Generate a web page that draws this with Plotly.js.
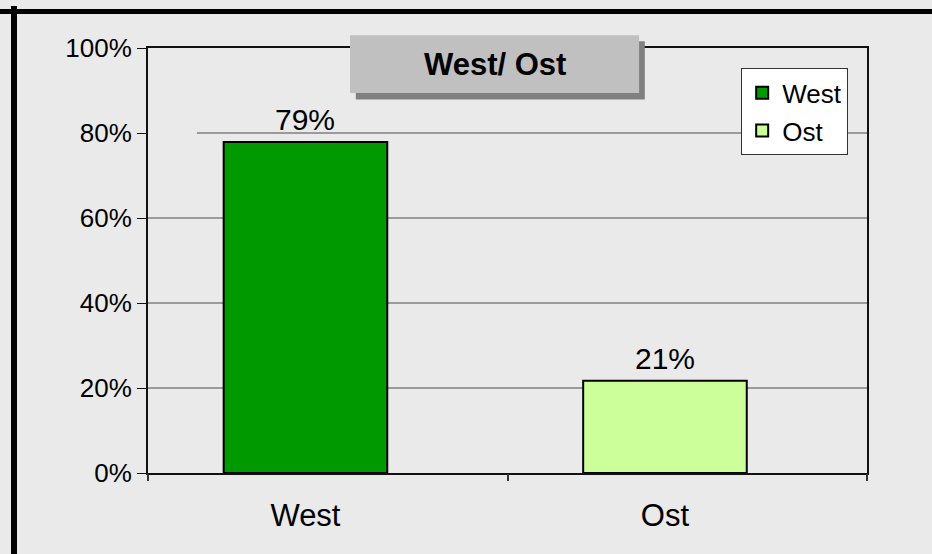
<!DOCTYPE html>
<html>
<head>
<meta charset="utf-8">
<script src="https://cdn.plot.ly/plotly-3.0.1.min.js"></script>
<style>
  html, body { margin: 0; padding: 0; background: #eaeaea; }
  #wrap { position: relative; width: 932px; height: 554px; overflow: hidden; }
  #chart { width: 932px; height: 554px; }
  .frameTop { position: absolute; left: 0; top: 9px; width: 932px; height: 5px; background: #000; }
  .frameLeft { position: absolute; left: 11px; top: 6px; width: 6px; height: 548px; background: #000; }
</style>
</head>
<body>
<div id="wrap">
  <div id="chart"></div>
  <div class="frameTop"></div>
  <div class="frameLeft"></div>
</div>
<script>
// ---- data ----
const categories = ["West", "Ost"];
const shareValues = [0.779, 0.217];
const shareLabels = ["79%", "21%"];
const barColors = ["#009900", "#ccff99"];
const yTickVals = [0, 0.2, 0.4, 0.6, 0.8, 1.0];
const yTickText = ["0%", "20%", "40%", "60%", "80%", "100%"];
const chartTitle = "West/ Ost";

const FONT = "Liberation Sans, Arial, sans-serif";

const traces = categories.map((c, i) => ({
  type: "bar",
  name: c,
  x: [c],
  y: [shareValues[i]],
  width: 0.455,
  marker: { color: barColors[i], line: { color: "#000", width: 2 } },
  legendgroup: "g" + i,
  hoverinfo: "skip"
}));
// helper trace for boundary tick marks
traces.push({
  type: "scatter", x: [null], y: [null], xaxis: "x2", yaxis: "y",
  showlegend: false, hoverinfo: "skip"
});

const gridShapes = yTickVals.filter(v => v > 0 && v < 1).map(v => ({
  type: "line", xref: "paper", yref: "y",
  x0: v === 0.8 ? 0.068 : 0, x1: 1.003, y0: v, y1: v,
  line: { color: "#4a4a4a", width: 1 }, layer: "below"
}));

const titleShapes = [
  { type: "rect", xref: "paper", yref: "paper", x0: 0.289, x1: 0.691, y0: 0.879, y1: 1.016,
    fillcolor: "#808080", line: { width: 0 }, layer: "above" },
  { type: "rect", xref: "paper", yref: "paper", x0: 0.281, x1: 0.683, y0: 0.894, y1: 1.030,
    fillcolor: "#c0c0c0", line: { width: 0 }, layer: "above" }
];

const labelAnns = categories.map((c, i) => ({
  xref: "x", yref: "y", x: c, y: shareValues[i],
  text: shareLabels[i], showarrow: false, yanchor: "bottom", yshift: 4,
  font: { family: FONT, size: 30, color: "#000" }
}));

const titleAnn = {
  xref: "paper", yref: "paper", x: 0.482, y: 0.962,
  text: "<b>" + chartTitle + "</b>", showarrow: false,
  xanchor: "center", yanchor: "middle",
  font: { family: FONT, size: 31, color: "#000" }
};

const layout = {
  width: 932, height: 554,
  margin: { l: 148, r: 65, t: 48, b: 81 },
  paper_bgcolor: "#eaeaea",
  plot_bgcolor: "#eaeaea",
  font: { family: FONT, color: "#000" },
  showlegend: true,
  legend: {
    x: 0.825, xanchor: "left", y: 0.952, yanchor: "top",
    bgcolor: "#ffffff", bordercolor: "#333", borderwidth: 1,
    font: { family: FONT, size: 26, color: "#000" },
    traceorder: "grouped", tracegroupgap: 1
  },
  xaxis: {
    type: "category", categoryarray: categories, categoryorder: "array",
    range: [-0.438, 1.562],
    showline: true, linecolor: "#111", linewidth: 2, mirror: true,
    ticks: "", showgrid: false, zeroline: false,
    ticklabelstandoff: 14,
    tickfont: { family: FONT, size: 31, color: "#000" }
  },
  xaxis2: {
    overlaying: "x", anchor: "y", side: "bottom",
    range: [0, 2], tickvals: [0, 1, 2],
    ticks: "outside", ticklen: 7, tickwidth: 2, tickcolor: "#333",
    showticklabels: false, showgrid: false, zeroline: false, showline: false
  },
  yaxis: {
    range: [0, 1], tickvals: yTickVals, ticktext: yTickText,
    ticks: "outside", ticklen: 9, tickwidth: 1, tickcolor: "#111",
    showline: true, linecolor: "#111", linewidth: 2, mirror: true,
    showgrid: false, zeroline: false,
    tickfont: { family: FONT, size: 26, color: "#000" }
  },
  shapes: gridShapes.concat(titleShapes),
  annotations: labelAnns.concat([titleAnn]),
  bargap: 0
};

Plotly.newPlot("chart", traces, layout, { staticPlot: true, displayModeBar: false });
</script>
</body>
</html>
